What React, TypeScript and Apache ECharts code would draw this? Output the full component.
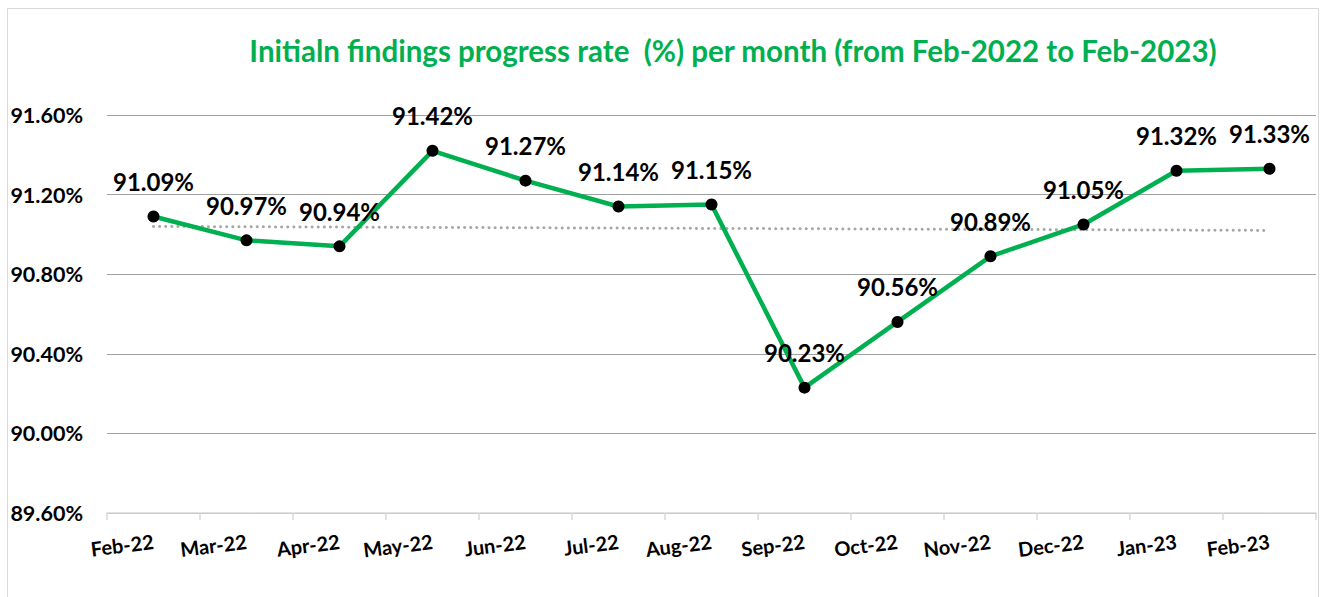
import React, { useEffect, useRef } from "react";
import * as echarts from "echarts";

const categories = ["Feb-22", "Mar-22", "Apr-22", "May-22", "Jun-22", "Jul-22", "Aug-22", "Sep-22", "Oct-22", "Nov-22", "Dec-22", "Jan-23", "Feb-23"];
const rates = [91.09, 90.97, 90.94, 91.42, 91.27, 91.14, 91.15, 90.23, 90.56, 90.89, 91.05, 91.32, 91.33];
const trendEnds = [91.04, 91.02];
const yTicks = { min: 89.6, max: 91.6, interval: 0.4 };
const titleText = "Initialn findings progress rate  (%) per month (from Feb-2022 to Feb-2023)";

const FONT = "Lato";

export default function App() {
  const ref = useRef<HTMLDivElement>(null);
  useEffect(() => {
    document.body.style.margin = "0";
    const chart = echarts.init(ref.current!, null, { renderer: "svg" });
    chart.setOption({
      animation: false,
      backgroundColor: "#ffffff",
      title: {
        text: titleText,
        left: 728,
        textAlign: "center",
        top: 30,
        textStyle: { color: "#00B050", fontWeight: "bold", fontSize: 29.5, fontFamily: FONT },
      },
      graphic: [
        {
          type: "rect",
          shape: { x: 7.5, y: 8.5, width: 1311, height: 620 },
          style: { fill: "none", stroke: "#D9D9D9", lineWidth: 1 },
          silent: true,
        },
      ],
      grid: { left: 107, right: 9, top: 115, bottom: 84, containLabel: false },
      xAxis: {
        type: "category",
        data: categories,
        boundaryGap: true,
        axisLine: { show: true, lineStyle: { color: "#D9D9D9", width: 1.5 } },
        axisTick: { show: true, length: 7, interval: 0, lineStyle: { color: "#D9D9D9", width: 1.5 } },
        axisLabel: {
          interval: 0,
          hideOverlap: false,
          rotate: 7,
          margin: 28,
          color: "#000",
          fontWeight: "bold",
          fontSize: 20,
          fontFamily: FONT,
        },
        splitLine: { show: false },
      },
      yAxis: {
        type: "value",
        min: yTicks.min,
        max: yTicks.max,
        interval: yTicks.interval,
        axisLine: { show: false },
        axisTick: { show: false },
        axisLabel: {
          margin: 24,
          color: "#000",
          fontWeight: "bold",
          fontSize: 21.5,
          fontFamily: FONT,
          formatter: (v: number) => v.toFixed(2) + "%",
        },
        splitLine: { show: true, lineStyle: { color: "#A0A0A0", width: 1 } },
      },
      series: [
        {
          type: "line",
          data: rates,
          symbol: "circle",
          symbolSize: 12,
          itemStyle: { color: "#000000" },
          lineStyle: { color: "#00B050", width: 4.5 },
          z: 3,
          label: {
            show: true,
            position: "top",
            distance: 17,
            color: "#000",
            fontWeight: "bold",
            fontSize: 24,
            fontFamily: FONT,
            formatter: (p: any) => p.value.toFixed(2) + "%",
          },
          markLine: {
            silent: true,
            symbol: "none",
            label: { show: false },
            lineStyle: { color: "#A6A6A6", type: [0.1, 6], width: 3, cap: "round" },
            data: [
              [
                { coord: [categories[0], trendEnds[0]] },
                { coord: [categories[categories.length - 1], trendEnds[1]] },
              ],
            ],
            z: 1,
          },
        },
      ],
    });
    return () => chart.dispose();
  }, []);
  return <div ref={ref} style={{ width: 1325, height: 597 }} />;
}
